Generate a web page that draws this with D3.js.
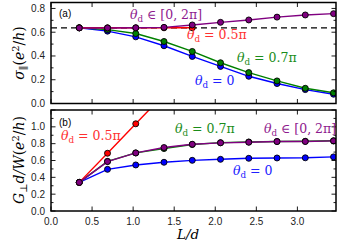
<!DOCTYPE html>
<html><head><meta charset="utf-8">
<script src="https://cdn.jsdelivr.net/npm/d3@7"></script>
<style>body{margin:0;background:#fff}svg{display:block}</style>
</head><body><svg id="c" width="339" height="246"></svg>
<script>
// ---- data ----
const L = [0.344,0.688,1.032,1.376,1.72,2.064,2.408,2.752,3.096,3.44];
const xTicks = [0.0,0.5,1.0,1.5,2.0,2.5,3.0];
const yTicksA = [0.0,0.2,0.4,0.6,0.8];
const yTicksB = [0.0,0.2,0.4,0.6,0.8,1.0];
const sigmaBlue   = [0.637,0.609,0.561,0.486,0.396,0.312,0.229,0.168,0.117,0.078];
const sigmaGreen  = [0.637,0.622,0.589,0.522,0.438,0.343,0.260,0.190,0.128,0.090];
const sigmaRed    = [0.637,0.637,0.637,0.637,0.637];
const sigmaPurple = [0.636,0.636,0.637,0.641,0.661,0.683,0.703,0.727,0.745,0.756];
const sigmaRef = 2/Math.PI;
const gBlue   = [0.34,0.495,0.547,0.579,0.602,0.614,0.626,0.630,0.632,0.643];
const gGreen  = [0.34,0.590,0.690,0.742,0.790,0.812,0.820,0.826,0.828,0.835];
const gRed    = [0.34,0.686,1.036,1.386,1.736];
const gPurple = [0.34,0.587,0.690,0.754,0.793,0.810,0.817,0.825,0.826,0.833];

const C = {blue:"#0000ff", green:"#008000", red:"#ff0000", purple:"#800080"};
const LC = {blue:"#2020ff", green:"#1a8c1a", red:"#ff3030", purple:"#8e1a8e"};

const svg = d3.select("#c");
const x = d3.scaleLinear().domain([0,3.47]).range([51,336]);

function panel(id, yDomain, yRange, yTicks, series, extra){
  const y = d3.scaleLinear().domain(yDomain).range(yRange);
  const g = svg.append("g");
  const clipId = "clip"+id;
  svg.append("clipPath").attr("id",clipId).append("rect")
    .attr("x",x.range()[0]).attr("y",yRange[1]).attr("width",x.range()[1]-x.range()[0]).attr("height",yRange[0]-yRange[1]);
  const plot = g.append("g").attr("clip-path",`url(#${clipId})`);
  if(extra) extra(plot,y);
  const line = d3.line().x((d,i)=>x(L[i])).y(d=>y(d));
  series.forEach(s=>{
    plot.append("path").attr("d",line(s.v)).attr("fill","none").attr("stroke",C[s.c]).attr("stroke-width",1.4);
    plot.selectAll(null).data(s.v).enter().append("circle")
      .attr("cx",(d,i)=>x(L[i])).attr("cy",d=>y(d)).attr("r",3)
      .attr("fill",C[s.c]).attr("stroke","#000").attr("stroke-width",0.9);
  });
  // ticks (inward, mirrored)
  const minor = d3.range(yDomain[0], yDomain[1]+1e-9, 0.1);
  const tg = g.append("g").attr("stroke","#000").attr("stroke-width",0.9);
  minor.forEach(v=>{
    const isMajor = Math.abs(Math.round(v*5)-v*5)<1e-6;
    const len = isMajor?4.5:2.5;
    tg.append("line").attr("x1",x.range()[0]).attr("x2",x.range()[0]+len).attr("y1",y(v)).attr("y2",y(v));
    tg.append("line").attr("x1",x.range()[1]).attr("x2",x.range()[1]-len).attr("y1",y(v)).attr("y2",y(v));
  });
  xTicks.forEach(v=>{
    tg.append("line").attr("x1",x(v)).attr("x2",x(v)).attr("y1",yRange[0]).attr("y2",yRange[0]-4.5);
    tg.append("line").attr("x1",x(v)).attr("x2",x(v)).attr("y1",yRange[1]).attr("y2",yRange[1]+4.5);
  });
  g.selectAll(null).data(yTicks).enter().append("text")
    .attr("x",45).attr("y",d=>y(d)+3.5).attr("text-anchor","end")
    .attr("font-family","Liberation Sans, Arial, sans-serif").attr("font-size",10).attr("fill","#222")
    .text(d=>d.toFixed(1));
  g.append("rect").attr("x",x.range()[0]).attr("y",yRange[1])
    .attr("width",x.range()[1]-x.range()[0]).attr("height",yRange[0]-yRange[1])
    .attr("fill","none").attr("stroke","#000").attr("stroke-width",1.5);
  return {g,y};
}

const pa = panel("a",[0,0.85],[103.5,2.5],yTicksA,[
  {v:sigmaBlue,c:"blue"},{v:sigmaGreen,c:"green"},{v:sigmaRed,c:"red"},{v:sigmaPurple,c:"purple"}
], (plot,y)=>{
  plot.append("line").attr("x1",x(0)).attr("x2",x(3.47)).attr("y1",y(sigmaRef)).attr("y2",y(sigmaRef))
    .attr("stroke","#000").attr("stroke-width",1.4).attr("stroke-dasharray","6,4");
});
const pb = panel("b",[0,1.2],[211,110],yTicksB,[
  {v:gBlue,c:"blue"},{v:gGreen,c:"green"},{v:gRed,c:"red"},{v:gPurple,c:"purple"}
]);

// x tick labels
svg.selectAll(null).data(xTicks).enter().append("text")
  .attr("x",d=>x(d)).attr("y",224.5).attr("text-anchor","middle")
  .attr("font-family","Liberation Sans, Arial, sans-serif").attr("font-size",10).attr("fill","#222")
  .text(d=>d.toFixed(1));

const serif = "DejaVu Serif, Liberation Serif, serif";
function theta(xp, yp, rest, color, size){
  const t = svg.append("text").attr("x",xp).attr("y",yp).attr("fill",color)
    .attr("font-family",serif).attr("font-size",size||13);
  t.append("tspan").attr("font-style","italic").text("θ");
  t.append("tspan").attr("dy",3).attr("font-size",(size||13)*0.7).text("d");
  t.append("tspan").attr("dy",-3).text(rest);
}
// panel labels
svg.append("text").attr("x",59).attr("y",16.5).attr("font-family","Liberation Sans, Arial, sans-serif").attr("font-size",10).text("(a)");
svg.append("text").attr("x",59).attr("y",125.5).attr("font-family","Liberation Sans, Arial, sans-serif").attr("font-size",10).text("(b)");

theta(130,19," ∈ [0, 2π]",LC.purple,12.5);
theta(187,39," = 0.5π",LC.red,12.5);
theta(237,62," = 0.7π",LC.green,12.5);
theta(195,85," = 0",LC.blue,12.5);

theta(61,140," = 0.5π",LC.red,12.5);
theta(175,133," = 0.7π",LC.green,12.5);
theta(264,133," ∈ [0, 2π]",LC.purple,12.5);
theta(233,175," = 0",LC.blue,12.5);

// axis labels
const xl = svg.append("text").attr("x",188).attr("y",238.5).attr("text-anchor","middle")
  .attr("font-family",serif).attr("font-size",13.5).attr("font-style","italic").text("L/d");

const ya = svg.append("text").attr("transform","translate(24,53) rotate(-90)").attr("text-anchor","middle")
  .attr("font-family",serif).attr("font-size",14);
ya.append("tspan").attr("font-style","italic").text("σ");
ya.append("tspan").attr("dy",3).attr("font-size",10).text("∥");
ya.append("tspan").attr("dy",-3).text("(");
ya.append("tspan").attr("font-style","italic").text("e");
ya.append("tspan").attr("dy",-5).attr("font-size",10).text("2");
ya.append("tspan").attr("dy",5).text("/");
ya.append("tspan").attr("font-style","italic").text("h");
ya.append("tspan").text(")");

const yb = svg.append("text").attr("transform","translate(24,160) rotate(-90)").attr("text-anchor","middle")
  .attr("font-family",serif).attr("font-size",14);
yb.append("tspan").attr("font-style","italic").text("G");
yb.append("tspan").attr("dy",3).attr("font-size",10).text("⊥");
yb.append("tspan").attr("dy",-3).attr("font-style","italic").text("d/W");
yb.append("tspan").text("(");
yb.append("tspan").attr("font-style","italic").text("e");
yb.append("tspan").attr("dy",-5).attr("font-size",10).text("2");
yb.append("tspan").attr("dy",5).text("/");
yb.append("tspan").attr("font-style","italic").text("h");
yb.append("tspan").text(")");
</script></body></html>
